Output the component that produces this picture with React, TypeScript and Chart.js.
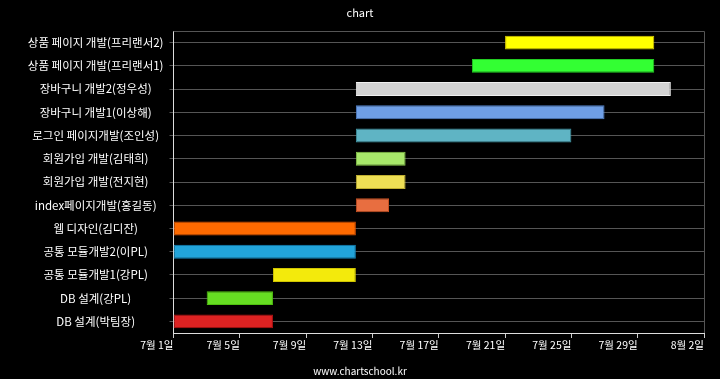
import React, { useEffect, useRef } from "react";
import { Chart, registerables } from "chart.js";

Chart.register(...registerables);

const chartTitle = "chart";
const footerText = "www.chartschool.kr";

const categories = [
  "상품 페이지 개발(프리랜서2)",
  "상품 페이지 개발(프리랜서1)",
  "장바구니 개발2(정우성)",
  "장바구니 개발1(이상해)",
  "로그인 페이지개발(조인성)",
  "회원가입 개발(김태희)",
  "회원가입 개발(전지현)",
  "index페이지개발(홍길동)",
  "웹 디자인(김디잔)",
  "공통 모듈개발2(이PL)",
  "공통 모듈개발1(강PL)",
  "DB 설계(강PL)",
  "DB 설계(박팀장)",
];

// dates as "month/day"
const startDates = ["7/21", "7/19", "7/12", "7/12", "7/12", "7/12", "7/12", "7/12", "7/1", "7/1", "7/7", "7/3", "7/1"];
const endDates = ["7/30", "7/30", "7/31", "7/27", "7/25", "7/15", "7/15", "7/14", "7/12", "7/12", "7/12", "7/7", "7/7"];

const barColors = [
  "#FFFF00", "#33FF33", "#D3D3D3", "#6F9FE6", "#5FB4C4", "#A8E86A", "#EEDF55",
  "#E86E40", "#FF6A00", "#22A4DA", "#F3EA0C", "#66DD22", "#DD2222",
];
const borderColors = [
  "#D8C800", "#22CC22", "#F0F0F0", "#4F7FC6", "#3F94A4", "#88C84A", "#BFAE30",
  "#C85020", "#DD5000", "#1284BA", "#D0C400", "#50C010", "#B01010",
];

const axisMin = "7/1";
const axisMax = "8/2";
const tickStepDays = 4;

function toDay(s: string): number {
  const [m, d] = s.split("/").map(Number);
  return m === 7 ? d : 31 + d;
}
function dayLabel(v: number): string {
  return v <= 31 ? `7월 ${v}일` : `8월 ${v - 31}일`;
}

const FONT = "'Noto Sans CJK KR', 'Noto Sans', sans-serif";

export default function App() {
  const ref = useRef<HTMLCanvasElement | null>(null);
  useEffect(() => {
    document.body.style.margin = "0";
    document.body.style.background = "#000";
    const canvas = ref.current!;
    const frame = {
      id: "frame",
      beforeDatasetsDraw(chart: any) {
        const { ctx, chartArea } = chart;
        ctx.save();
        ctx.strokeStyle = "#555555";
        ctx.lineWidth = 1;
        ctx.beginPath();
        ctx.moveTo(chartArea.left, chartArea.top + 0.5);
        ctx.lineTo(chartArea.right + 0.5, chartArea.top + 0.5);
        ctx.lineTo(chartArea.right + 0.5, chartArea.bottom);
        ctx.stroke();
        ctx.restore();
      },
      afterDraw(chart: any) {
        const { ctx } = chart;
        ctx.save();
        ctx.fillStyle = "#ffffff";
        ctx.textAlign = "center";
        ctx.textBaseline = "middle";
        ctx.font = `11px ${FONT}`;
        ctx.fillText(chartTitle, 360, 13);
        ctx.font = `10px ${FONT}`;
        ctx.fillText(footerText, 360, 371);
        ctx.restore();
      },
    };
    const chart = new Chart(canvas, {
      type: "bar",
      data: {
        labels: categories,
        datasets: [
          {
            data: categories.map((_, i) => [toDay(startDates[i]), toDay(endDates[i])]) as any,
            backgroundColor: barColors,
            borderColor: borderColors,
            borderWidth: 1,
            borderSkipped: false,
            barPercentage: 0.6,
            categoryPercentage: 1,
          },
        ],
      },
      options: {
        indexAxis: "y",
        animation: false,
        responsive: false,
        maintainAspectRatio: false,
        layout: { padding: { top: 31, right: 16, bottom: 0, left: 0 } },
        plugins: { legend: { display: false }, tooltip: { enabled: false }, title: { display: false } },
        scales: {
          x: {
            type: "linear",
            min: toDay(axisMin),
            max: toDay(axisMax),
            afterFit(scale: any) {
              scale.height = 46;
            },
            border: { display: true, color: "#dddddd", width: 1 },
            grid: { drawOnChartArea: false, drawTicks: true, tickLength: 5, color: "#cccccc" },
            ticks: {
              stepSize: tickStepDays,
              align: "end",
              padding: 1,
              color: "#ffffff",
              font: { family: FONT, size: 10.5 },
              maxRotation: 0,
              autoSkip: false,
              callback: (v: any) => dayLabel(Number(v)),
            },
          },
          y: {
            afterFit(scale: any) {
              scale.width = 173.5;
            },
            border: { display: true, color: "#dddddd", width: 1 },
            grid: { offset: false, color: "#555555", tickLength: 4, drawTicks: true },
            ticks: {
              crossAlign: "center",
              padding: 6,
              color: "#ffffff",
              font: { family: FONT, size: 11.5 },
              autoSkip: false,
            },
          },
        },
      },
      plugins: [frame],
    } as any);
    return () => chart.destroy();
  }, []);
  return <canvas ref={ref} width={720} height={379} style={{ display: "block", background: "#000" }} />;
}
